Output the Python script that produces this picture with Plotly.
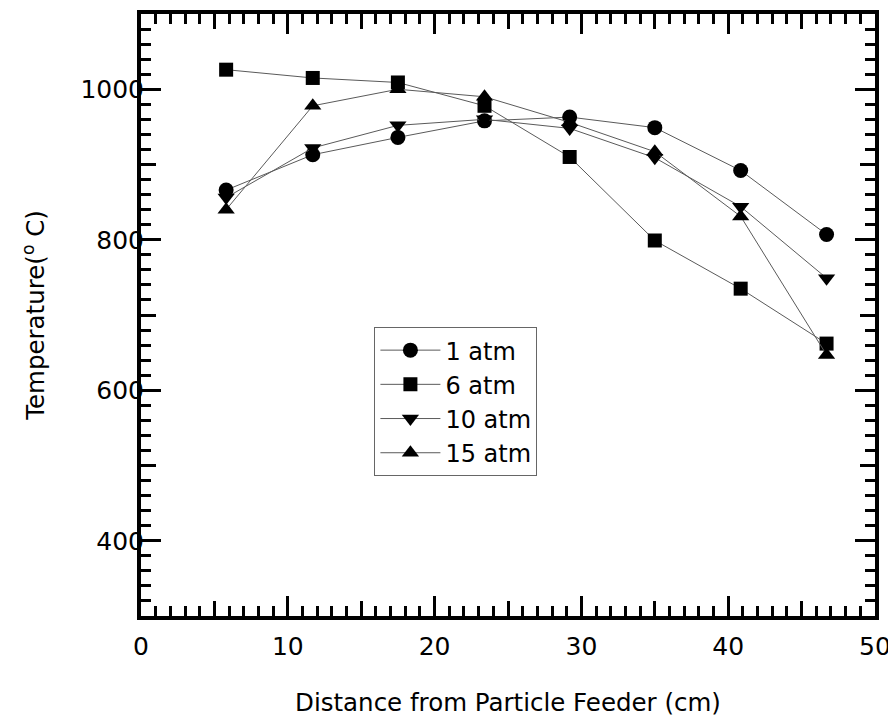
import plotly.graph_objects as go

distance_cm = [5.8, 11.7, 17.5, 23.4, 29.2, 35.0, 40.85, 46.7]
temp_1atm = [866, 913, 936, 958, 963, 949, 892, 807]
temp_6atm = [1026, 1015, 1009, 978, 910, 799, 735, 662]
temp_10atm = [856, 922, 952, 960, 948, 909, 844, 749]
temp_15atm = [840, 978, 1000, 990, 956, 917, 831, 647]

series_names = ["1 atm", "6 atm", "10 atm", "15 atm"]
series_values = [temp_1atm, temp_6atm, temp_10atm, temp_15atm]
symbols = ["circle", "square", "triangle-down", "triangle-up"]
sizes = [15, 14, 15, 15]

FONT = "DejaVu Sans"

fig = go.Figure()
for name, vals, sym, sz in zip(series_names, series_values, symbols, sizes):
    fig.add_trace(go.Scatter(
        x=distance_cm, y=vals, name=name, mode="lines+markers",
        line=dict(color="#5a5a5a", width=1),
        marker=dict(symbol=sym, size=sz, color="black", line=dict(width=0)),
    ))

# invisible trace for the overlay axes carrying medium ticks
fig.add_trace(go.Scatter(x=[None], y=[None], xaxis="x2", yaxis="y2",
                         showlegend=False, hoverinfo="skip"))

common = dict(showline=True, linecolor="black", linewidth=4, mirror="allticks",
              ticks="inside", tickcolor="black", showgrid=False, zeroline=False,
              automargin=False)

fig.update_layout(
    template="none",
    width=888, height=709,
    margin=dict(l=133, r=21, t=6, b=101, autoexpand=False),
    paper_bgcolor="white", plot_bgcolor="white",
    font=dict(family=FONT, size=24, color="black"),
    xaxis=dict(range=[0, 50], dtick=10, tick0=0, ticklen=20, tickwidth=3,
               minor=dict(dtick=1, ticklen=10, tickwidth=2.5, tickcolor="black", ticks="inside"),
               ticklabelstandoff=5, ticklabeloverflow="allow",
               tickfont=dict(size=25),
               title=dict(text="Distance from Particle Feeder (cm)", standoff=54,
                          font=dict(size=24.5)),
               **common),
    yaxis=dict(range=[300, 1100], dtick=200, tick0=0, ticklen=20, tickwidth=3,
               minor=dict(dtick=20, ticklen=10, tickwidth=2.5, tickcolor="black", ticks="inside"),
               ticklabelstandoff=-12, ticklabeloverflow="allow",
               tickfont=dict(size=25),
               title=dict(text="Temperature(<sup>o</sup> C)", standoff=30,
                          font=dict(size=24.5)),
               **common),
    xaxis2=dict(range=[0, 50], dtick=5, tick0=0, ticklen=15, tickwidth=2.5,
                overlaying="x", anchor="y2", showticklabels=False, **common),
    yaxis2=dict(range=[300, 1100], dtick=100, tick0=0, ticklen=15, tickwidth=2.5,
                overlaying="y", anchor="x2", showticklabels=False, **common),
    legend=dict(x=0.318, y=0.48, xanchor="left", yanchor="top",
                bgcolor="white", bordercolor="#666666", borderwidth=1,
                itemwidth=60,
                font=dict(size=24, family=FONT), tracegroupgap=0),
    showlegend=True,
)

fig.write_html("out.html")
